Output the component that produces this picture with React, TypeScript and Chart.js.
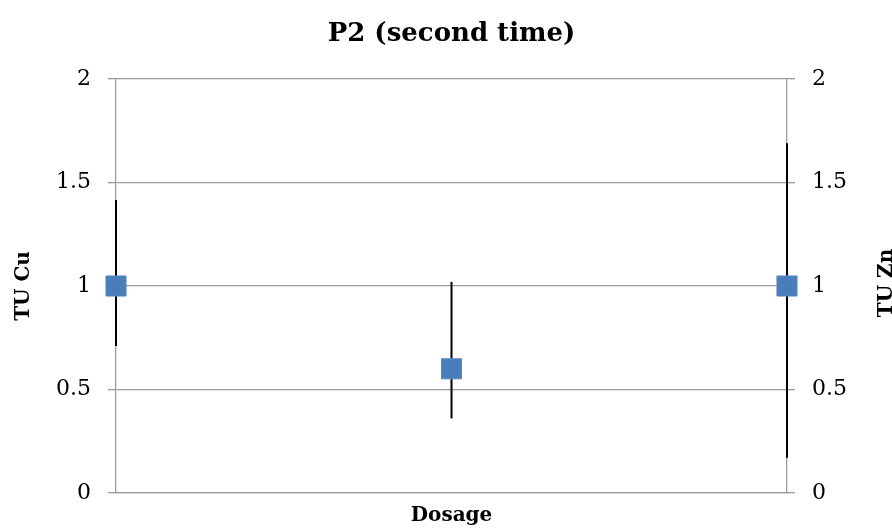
import React, { useEffect, useRef } from "react";
import { Chart, registerables } from "chart.js";

Chart.register(...registerables);

const chartTitle = "P2 (second time)";
const xAxisTitle = "Dosage";
const leftAxisTitle = "TU Cu";
const rightAxisTitle = "TU Zn";
const categories = ["Low", "Mid", "High"];
const tuValues = [1, 0.6, 1];
const errLow = [0.71, 0.36, 0.17];
const errHigh = [1.415, 1.02, 1.69];
const yMin = 0;
const yMax = 2;
const yStep = 0.5;

const FONT = "'DejaVu Serif', serif";

const errorBarPlugin = {
  id: "errorBars",
  beforeDatasetsDraw(chart: any) {
    const { ctx, scales } = chart;
    const meta = chart.getDatasetMeta(0);
    ctx.save();
    ctx.strokeStyle = "#000000";
    ctx.lineWidth = 2;
    meta.data.forEach((pt: any, i: number) => {
      const yl = scales.y.getPixelForValue(errLow[i]);
      const yh = scales.y.getPixelForValue(errHigh[i]);
      ctx.beginPath();
      ctx.moveTo(pt.x, yl);
      ctx.lineTo(pt.x, yh);
      ctx.stroke();
    });
    ctx.restore();
  },
  afterDraw(chart: any) {
    const { ctx, chartArea } = chart;
    ctx.save();
    ctx.font = `bold 20px ${FONT}`;
    ctx.fillStyle = "#000000";
    ctx.textAlign = "center";
    ctx.textBaseline = "middle";
    ctx.translate(887, (chartArea.top + chartArea.bottom) / 2 - 3);
    ctx.rotate(-Math.PI / 2);
    ctx.fillText(rightAxisTitle, 0, 0);
    ctx.restore();
  },
};

const fmt = (v: any) => String(Number(v));

export default function App() {
  const ref = useRef<HTMLCanvasElement>(null);
  useEffect(() => {
    if (!ref.current) return;
    const gridColor = "#9c9c9c";
    const chart = new Chart(ref.current, {
      type: "line",
      data: {
        labels: categories,
        datasets: [
          {
            data: tuValues,
            showLine: false,
            pointStyle: "rect",
            pointRadius: 14.2,
            pointHoverRadius: 14.2,
            backgroundColor: "#4A7EBB",
            borderColor: "#5a88c2",
            borderWidth: 1,
          },
        ],
      },
      options: {
        responsive: false,
        animation: false,
        devicePixelRatio: 1,
        layout: { padding: { left: 11, right: 0, top: 0, bottom: 0 } },
        plugins: {
          legend: { display: false },
          tooltip: { enabled: false },
          title: {
            display: true,
            text: chartTitle,
            color: "#000000",
            font: { family: FONT, size: 26, weight: "bold", lineHeight: 1.2 },
            padding: { top: 19, bottom: 28.8 },
          },
        },
        scales: {
          x: {
            type: "category",
            offset: false,
            ticks: { display: false },
            grid: { display: true, drawOnChartArea: false, drawTicks: false },
            border: { display: true, color: gridColor, width: 1.3 },
            title: {
              display: true,
              text: xAxisTitle,
              color: "#000000",
              font: { family: FONT, size: 20, weight: "bold", lineHeight: 1.2 },
              padding: { top: 0, bottom: 2 },
            },
            afterFit(scale: any) {
              scale.height = 37;
            },
          },
          y: {
            type: "linear",
            position: "left",
            min: yMin,
            max: yMax,
            ticks: {
              stepSize: yStep,
              color: "#000000",
              padding: 17,
              font: { family: FONT, size: 22 },
              callback: fmt,
            },
            grid: { color: gridColor, lineWidth: 1.3, tickLength: 8, drawTicks: true },
            border: { display: true, color: gridColor, width: 1.3 },
            title: {
              display: true,
              text: leftAxisTitle,
              color: "#000000",
              font: { family: FONT, size: 20, weight: "bold", lineHeight: 1.2 },
              padding: { top: 1, bottom: 0 },
            },
            afterFit(scale: any) {
              scale.width = 105;
            },
          },
          y2: {
            type: "linear",
            position: "right",
            min: yMin,
            max: yMax,
            ticks: {
              stepSize: yStep,
              color: "#000000",
              padding: 17,
              font: { family: FONT, size: 22 },
              callback: fmt,
            },
            grid: { color: gridColor, lineWidth: 1.3, tickLength: 8, drawOnChartArea: false, drawTicks: true },
            border: { display: true, color: gridColor, width: 1.3 },
            afterFit(scale: any) {
              scale.width = 105;
            },
          },
        },
      },
      plugins: [errorBarPlugin],
    } as any);
    return () => chart.destroy();
  }, []);
  return (
    <div style={{ position: "absolute", left: 0, top: 0, width: 892, height: 530, background: "#ffffff" }}>
      <canvas ref={ref} width={892} height={530} style={{ display: "block", width: 892, height: 530 }} />
    </div>
  );
}
